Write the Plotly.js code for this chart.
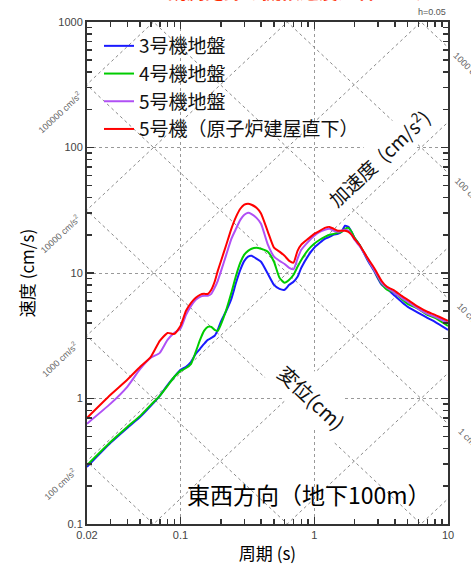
<!DOCTYPE html>
<html><head><meta charset="utf-8">
<script src="https://cdn.plot.ly/plotly-3.0.1.min.js"></script>
<style>html,body{margin:0;padding:0;background:#fff}#chart{width:471px;height:566px}</style>
</head><body><div id="chart"></div>
<script>
// Period (s)
const period = [0.02,0.03,0.04,0.05,0.06,0.07,0.08,0.09,0.1,0.11,0.12,0.13,0.14,0.15,0.16,0.17,0.18,0.19,0.2,
  0.22,0.24,0.26,0.28,0.3,0.32,0.34,0.37,0.4,0.45,0.5,0.55,0.6,0.65,0.7,0.75,0.8,0.9,
  1.0,1.1,1.2,1.3,1.4,1.5,1.6,1.7,1.8,1.9,2.0,2.2,2.5,2.8,3.0,3.2,3.5,4.0,4.5,5,6,7,8,10];
// Pseudo velocity response (cm/s), h=0.05
const unit3 = [0.285,0.443,0.583,0.714,0.873,1.05,1.28,1.49,1.69,1.79,1.96,2.27,2.49,2.72,2.93,3.04,3.16,3.52,4.08,
  5.0,6.22,8.36,10.6,12.5,13.5,13.7,13.0,12.3,9.86,8.05,7.48,7.35,8.05,8.51,9.33,11.0,13.7,
  15.9,17.4,18.7,19.4,20.2,20.5,21.3,23.8,23.3,21.3,19.1,16.5,12.7,10.4,9.0,8.05,7.48,6.58,5.89,5.37,4.82,4.39,4.08,3.52];
const unit4 = [0.295,0.451,0.594,0.727,0.889,1.05,1.26,1.49,1.66,1.75,1.89,2.35,2.93,3.46,3.72,3.72,3.52,3.46,3.86,
  5.09,6.95,9.50,12.1,14.0,15.0,15.6,15.9,15.6,14.8,12.3,9.16,8.36,8.83,9.68,11.2,12.7,15.3,
  17.1,18.4,19.4,20.2,20.5,20.9,21.3,22.5,22.9,21.3,19.1,16.5,13.0,10.6,9.16,8.2,7.35,6.95,6.22,5.68,5.18,4.64,4.39,3.79];
const unit5 = [0.63,0.91,1.24,1.72,2.11,2.31,2.93,3.34,3.6,4.64,5.47,6.11,6.46,6.58,6.58,6.82,7.62,8.67,10.2,
  14.0,18.7,22.5,26.5,29.1,30.2,29.5,27.5,24.7,16.8,13.5,12.5,11.8,11.0,10.7,13.0,15.3,17.7,
  19.8,21.3,22.1,22.5,21.7,21.3,21.7,22.1,21.7,20.2,18.4,16.2,13.0,10.6,9.33,8.3,7.62,6.95,6.34,5.89,5.18,4.73,4.48,4.01];
const unit5Bldg = [0.70,1.07,1.41,1.79,2.15,2.88,3.33,3.27,3.79,5.0,5.78,6.34,6.70,6.82,6.8,7.35,8.51,10.4,12.3,
  16.8,22.5,28.0,32.5,35.0,35.7,35.0,33.1,29.8,21.3,15.9,14.8,13.7,12.5,12.1,15.0,16.8,18.7,
  20.5,21.7,22.9,23.3,22.5,21.7,21.7,21.7,21.3,20.2,18.7,16.5,13.2,11.0,9.68,8.6,7.76,7.21,6.58,6.11,5.37,4.91,4.64,4.16];

const seriesNames = ['3号機地盤','4号機地盤','5号機地盤','5号機（原子炉建屋直下）'];
const seriesColors = ['#1a1aff','#00cc00','#b050f5','#ff0000'];

const xTickVals = [0.02,0.1,1,10];
const xTickText = ['0.02','0.1','1','10'];
const yTickVals = [0.1,1,10,100,1000];
const yTickText = ['0.1','1','10','100','1000'];

// tripartite grid levels
const accelLevels = [0.1,1,10,100,1000,10000,100000,1000000];   // cm/s^2
const dispLevels = [0.0001,0.001,0.01,0.1,1,10,100,1000];        // cm
const accelLabelLevels = ['100000','10000','1000','100'];
const dispLabelLevels = ['1000','100','10','1'];

const JP = '"Noto Sans CJK JP", "Noto Sans", sans-serif';
const LAT = '"Liberation Sans", Arial, sans-serif';

const traces = [];
const Tline = [0.005, 40];
accelLevels.forEach(a => traces.push({
  x: Tline, y: Tline.map(t => a * t / (2 * Math.PI)), mode: 'lines', type: 'scatter',
  line: {color: '#8a8a8a', width: 1, dash: 'dot'}, hoverinfo: 'skip', showlegend: false
}));
dispLevels.forEach(d => traces.push({
  x: Tline, y: Tline.map(t => 2 * Math.PI * d / t), mode: 'lines', type: 'scatter',
  line: {color: '#8a8a8a', width: 1, dash: 'dot'}, hoverinfo: 'skip', showlegend: false
}));
[unit3, unit4, unit5, unit5Bldg].forEach((vals, i) => traces.push({
  x: period, y: vals, type: 'scatter', mode: 'lines', name: seriesNames[i],
  line: {color: seriesColors[i], width: 2, shape: 'spline', smoothing: 0.5}
}));

function minorVals(lo, hi) {
  const out = [];
  for (let e = -3; e <= 3; e++) for (let m = 2; m <= 9; m++) {
    const v = m * Math.pow(10, e);
    if (v > lo * 1.0001 && v < hi * 0.9999) out.push(v);
  }
  return out;
}

// pixel helpers for annotation placement in paper coords
const L = 87, R = 448, T = 22, B = 524;
const px = x => (x - L) / (R - L);
const py = y => (B - y) / (B - T);

const annotations = [];
// acceleration labels (left)
const accY = [112, 234, 359, 484];
accelLabelLevels.forEach((a, i) => annotations.push({
  xref: 'paper', yref: 'paper', x: px(60), y: py(accY[i]), xanchor: 'center', yanchor: 'middle',
  text: a + ' cm/s<sup>2</sup>',
  showarrow: false, textangle: -43, font: {family: LAT, size: 9, color: '#666'}
}));
// displacement labels (right, running off the page edge as in the original)
const dispY = [66, 190, 313, 437];
dispLabelLevels.forEach((d, i) => annotations.push({
  xref: 'paper', yref: 'paper', x: px(467), y: py(dispY[i]), xanchor: 'center', yanchor: 'middle',
  text: d + ' cm',
  showarrow: false, textangle: 45, font: {family: LAT, size: 9, color: '#666'}
}));
annotations.push(
  {xref:'paper', yref:'paper', x:1, y:py(12), xanchor:'right', yanchor:'middle', text:'h=0.05', showarrow:false,
   font:{family:LAT, size:9, color:'#555'}},
  {xref:'paper', yref:'paper', x:px(378), y:py(158), xanchor:'center', yanchor:'middle',
   text:'加速度  (cm/s<sup>2</sup>)', showarrow:false, textangle:-43,
   bgcolor:'#fff', borderpad:3, font:{family:JP, size:19, color:'#111'}},
  {xref:'paper', yref:'paper', x:px(312), y:py(397), xanchor:'center', yanchor:'middle',
   text:'変位(cm)', showarrow:false, textangle:43,
   bgcolor:'#fff', borderpad:6, font:{family:JP, size:20, color:'#111'}},
  {xref:'paper', yref:'paper', x:px(309), y:py(494), xanchor:'center', yanchor:'middle',
   text:'東西方向（地下100m）', showarrow:false,
   font:{family:JP, size:23, color:'#000'}},
  {xref:'paper', yref:'paper', x:px(318), y:py(6), xanchor:'center', yanchor:'bottom',
   text:'<b>観測記録の擬似速度応答スペクトル</b>', showarrow:false,
   font:{family:JP, size:19, color:'#ff2a00'}}
);

const axisCommon = {
  type: 'log', ticks: 'inside', ticklen: 7, tickwidth: 1.5, tickcolor: '#333',
  showline: true, linecolor: '#333', linewidth: 2, mirror: 'ticks',
  showgrid: true, gridcolor: '#999', griddash: 'dot', gridwidth: 1, zeroline: false,
  tickfont: {family: LAT, size: 11, color: '#444'}, fixedrange: true
};

const layout = {
  width: 471, height: 566,
  margin: {l: L, r: 471 - R, t: T, b: 566 - B, pad: 0},
  paper_bgcolor: '#fff', plot_bgcolor: '#fff',
  showlegend: true,
  legend: {x: px(99), y: py(27), xanchor: 'left', yanchor: 'top', bgcolor: 'rgba(0,0,0,0)',
    font: {family: JP, size: 19, color: '#111'}, traceorder: 'normal'},
  xaxis: Object.assign({}, axisCommon, {
    range: [Math.log10(0.02), 1], tickmode: 'array', tickvals: xTickVals, ticktext: xTickText,
    minor: {tickvals: minorVals(0.02, 10), ticks: 'inside', ticklen: 5, tickwidth: 1.5, tickcolor: '#333', showgrid: false},
    title: {text: '周期 (s)', font: {family: JP, size: 17, color: '#000'}, standoff: 8}
  }),
  yaxis: Object.assign({}, axisCommon, {
    range: [-1, 3], tickmode: 'array', tickvals: yTickVals, ticktext: yTickText,
    minor: {tickvals: minorVals(0.1, 1000), ticks: 'inside', ticklen: 5, tickwidth: 1.5, tickcolor: '#333', showgrid: false},
    title: {text: '速度 (cm/s)', font: {family: JP, size: 17, color: '#000'}, standoff: 19}
  }),
  annotations: annotations
};

Plotly.newPlot('chart', traces, layout, {displayModeBar: false, staticPlot: true});
</script></body></html>
